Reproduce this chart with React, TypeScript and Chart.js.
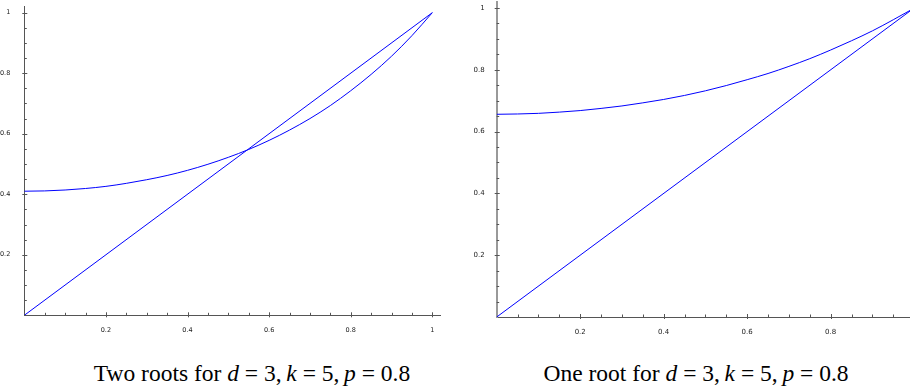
import React, { useEffect, useRef } from 'react';
import { Chart, registerables } from 'chart.js';

Chart.register(...registerables);

// ---- data ----
const leftX = [0, 0.05, 0.1, 0.15, 0.2, 0.25, 0.3, 0.35, 0.4, 0.45, 0.5, 0.55, 0.6, 0.65, 0.7, 0.75, 0.8, 0.85, 0.9, 0.95, 1];
const leftCurve = [0.41, 0.411, 0.414, 0.419, 0.426, 0.436, 0.448, 0.462, 0.479, 0.499, 0.522, 0.548, 0.578, 0.612, 0.65, 0.693, 0.742, 0.796, 0.856, 0.924, 1];
const rightX = [0, 0.05, 0.1, 0.15, 0.2, 0.25, 0.3, 0.35, 0.4, 0.45, 0.5, 0.55, 0.6, 0.65, 0.7, 0.75, 0.8, 0.85, 0.9, 0.95, 0.99];
const rightCurve = [0.656, 0.657, 0.659, 0.663, 0.668, 0.675, 0.683, 0.693, 0.704, 0.717, 0.732, 0.749, 0.768, 0.788, 0.811, 0.836, 0.864, 0.894, 0.926, 0.962, 0.992];
const diagonalX = [0, 1];
const diagonalY = [0, 1];
const majorTicks = [0.2, 0.4, 0.6, 0.8, 1];
const minorTicks = [0.05, 0.1, 0.15, 0.25, 0.3, 0.35, 0.45, 0.5, 0.55, 0.65, 0.7, 0.75, 0.85, 0.9, 0.95, 1.05];
const leftCaption = 'Two roots for';
const rightCaption = 'One root for';

const toPoints = (xs: number[], ys: number[]) => xs.map((x, i) => ({ x, y: ys[i] }));

const sageTicks = {
  id: 'sageTicks',
  afterDatasetsDraw(chart: any) {
    const { ctx, chartArea, scales } = chart;
    const xs = scales.x;
    const ys = scales.y;
    ctx.save();
    ctx.strokeStyle = '#555';
    ctx.lineWidth = 1;
    const bottom = chartArea.bottom;
    const left = chartArea.left;
    const drawX = (v: number, up: number, down: number) => {
      if (v > xs.max) return;
      const px = Math.round(xs.getPixelForValue(v)) + 0.5;
      ctx.beginPath();
      ctx.moveTo(px, bottom + down);
      ctx.lineTo(px, bottom - up);
      ctx.stroke();
    };
    const drawY = (v: number, inside: number, outside: number) => {
      if (v > ys.max) return;
      const py = Math.round(ys.getPixelForValue(v)) + 0.5;
      ctx.beginPath();
      ctx.moveTo(left - outside, py);
      ctx.lineTo(left + inside, py);
      ctx.stroke();
    };
    minorTicks.forEach((v) => { drawX(v, 2.5, 0); drawY(v, 2.5, 0); });
    majorTicks.forEach((v) => { drawX(v, 3, 2); drawY(v, 3, 2); });
    ctx.restore();
  },
};

type PanelProps = {
  curveX: number[];
  curveY: number[];
  xMax: number;
  yMax: number;
  yAxisWidth: number;
  xAxisHeight: number;
  padTop: number;
  padRight: number;
  fontSize: number;
  yPad: number;
  yBorderWidth: number;
  yBorderColor: string;
  style: React.CSSProperties;
  width: number;
  height: number;
};

function Panel(p: PanelProps) {
  const ref = useRef<HTMLCanvasElement | null>(null);
  useEffect(() => {
    if (!ref.current) return;
    const font = { family: 'DejaVu Sans', size: p.fontSize };
    const chart = new Chart(ref.current, {
      type: 'line',
      data: {
        datasets: [
          {
            data: toPoints(p.curveX, p.curveY),
            borderColor: 'rgb(0,0,255)',
            borderWidth: 1,
            pointRadius: 0,
            cubicInterpolationMode: 'monotone',
          },
          {
            data: toPoints(diagonalX, diagonalY),
            borderColor: 'rgb(0,0,255)',
            borderWidth: 1,
            pointRadius: 0,
          },
        ],
      },
      options: {
        animation: false,
        responsive: false,
        maintainAspectRatio: false,
        events: [],
        layout: { autoPadding: false, padding: { top: p.padTop, right: p.padRight, left: 0, bottom: 0 } },
        plugins: { legend: { display: false }, tooltip: { enabled: false }, title: { display: false } },
        scales: {
          x: {
            type: 'linear',
            min: 0,
            max: p.xMax,
            grid: { display: false },
            border: { display: true, color: '#555', width: 1 },
            ticks: { font, color: '#222', padding: 3, maxRotation: 0, autoSkip: false, callback: (v: any) => String(v) },
            afterBuildTicks: (s: any) => { s.ticks = majorTicks.filter((v) => v <= p.xMax).map((v) => ({ value: v })); },
            afterFit: (s: any) => { s.height = p.xAxisHeight; s.paddingLeft = 0; s.paddingRight = 0; s.paddingTop = 0; s.paddingBottom = 0; },
          },
          y: {
            type: 'linear',
            min: 0,
            max: p.yMax,
            grid: { display: false },
            border: { display: true, color: p.yBorderColor, width: p.yBorderWidth },
            ticks: { font, color: '#222', padding: p.yPad, autoSkip: false, callback: (v: any) => String(v) },
            afterBuildTicks: (s: any) => { s.ticks = majorTicks.filter((v) => v <= p.yMax).map((v) => ({ value: v })); },
            afterFit: (s: any) => { s.width = p.yAxisWidth; s.paddingLeft = 0; s.paddingRight = 0; s.paddingTop = 0; s.paddingBottom = 0; },
          },
        },
      } as any,
      plugins: [sageTicks],
    });
    return () => chart.destroy();
  }, []);
  return <canvas ref={ref} width={p.width} height={p.height} style={{ position: 'absolute', ...p.style, width: p.width, height: p.height }} />;
}

const captionStyle: React.CSSProperties = {
  position: 'absolute',
  width: 420,
  textAlign: 'center',
  fontFamily: '"Liberation Serif", "DejaVu Serif", serif',
  fontSize: 23.5,
  lineHeight: '23.5px',
  color: '#000',
  whiteSpace: 'nowrap',
};

function MathPart() {
  return (
    <span>
      <i>d</i> = 3,&thinsp;<i>k</i> = 5,&thinsp;<i>p</i> = 0.8
    </span>
  );
}

export default function App() {
  return (
    <div style={{ position: 'absolute', left: 0, top: 0, width: 910, height: 392, background: '#fff', overflow: 'hidden' }}>
      <Panel
        curveX={leftX}
        curveY={leftCurve}
        xMax={1.02}
        yMax={1.02}
        yAxisWidth={24.3}
        xAxisHeight={20.7}
        padTop={6.6}
        padRight={19.5}
        fontSize={6.5}
        yPad={6}
        yBorderWidth={1}
        yBorderColor="#555"
        width={460}
        height={336}
        style={{ left: 0, top: 0 }}
      />
      <Panel
        curveX={rightX}
        curveY={rightCurve}
        xMax={0.99}
        yMax={1.02}
        yAxisWidth={26.7}
        xAxisHeight={20}
        padTop={1.8}
        padRight={0}
        fontSize={7}
        yPad={4}
        yBorderWidth={2}
        yBorderColor="#999"
        width={440}
        height={337}
        style={{ left: 470, top: 0 }}
      />
      <div style={{ ...captionStyle, left: 42, top: 362 }}>
        {leftCaption} <MathPart />
      </div>
      <div style={{ ...captionStyle, left: 486, top: 362 }}>
        {rightCaption} <MathPart />
      </div>
    </div>
  );
}
